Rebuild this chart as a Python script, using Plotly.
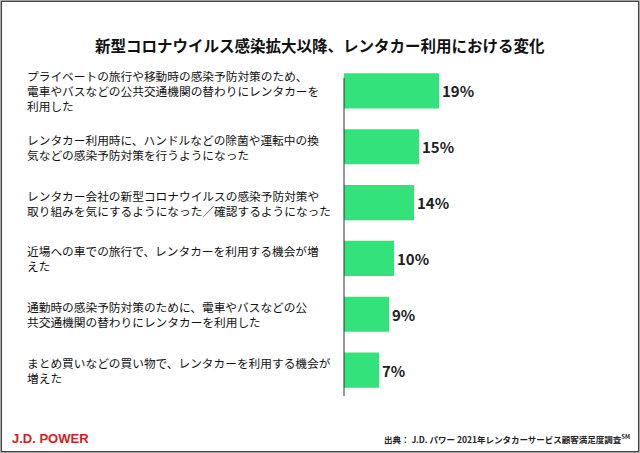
import plotly.graph_objects as go

labels = [
    "プライベートの旅行や移動時の感染予防対策のため、<br>電車やバスなどの公共交通機関の替わりにレンタカーを<br>利用した",
    "レンタカー利用時に、ハンドルなどの除菌や運転中の換<br>気などの感染予防対策を行うようになった",
    "レンタカー会社の新型コロナウイルスの感染予防対策や<br>取り組みを気にするようになった／確認するようになった",
    "近場への車での旅行で、レンタカーを利用する機会が増<br>えた",
    "通勤時の感染予防対策のために、電車やバスなどの公<br>共交通機関の替わりにレンタカーを利用した",
    "まとめ買いなどの買い物で、レンタカーを利用する機会が<br>増えた",
]
values = [19, 15, 14, 10, 9, 7]
cats = list(range(len(values)))

W, H = 640, 453
fig = go.Figure(go.Bar(
    x=values, y=cats, orientation="h",
    marker=dict(color="#33e27a", line=dict(width=0)),
    text=[f"<b>{v}%</b>" for v in values], textposition="outside",
    textfont=dict(size=15, color="#222", family="Noto Sans CJK JP"),
    cliponaxis=False,
))

fig.update_layout(
    width=W, height=H, margin=dict(l=0, r=0, t=0, b=0),
    paper_bgcolor="white", plot_bgcolor="white",
    bargap=0.37, showlegend=False,
    font=dict(family="Noto Sans CJK JP", color="#111"),
    xaxis=dict(domain=[344 / W, 1], range=[0, 59.2], visible=False),
    yaxis=dict(domain=[1 - 398 / H, 1 - 63 / H], range=[5.5, -0.5],
               showticklabels=False, showgrid=False, zeroline=False),
)
# vertical axis line
fig.add_shape(type="line", xref="paper", yref="paper",
              x0=344 / W, x1=344 / W, y0=1 - 396 / H, y1=1 - 78 / H,
              line=dict(color="#333", width=1))
for i, lab in enumerate(labels):
    fig.add_annotation(x=25 / W, xref="paper", y=i, yref="y", text=lab,
                       showarrow=False, xanchor="left", align="left",
                       font=dict(size=11.7, color="#111"))
fig.add_annotation(x=0.5, xref="paper", y=1 - 45 / H, yref="paper", yanchor="middle",
                   text="<b>新型コロナウイルス感染拡大以降、レンタカー利用における変化</b>",
                   showarrow=False, font=dict(size=15.5, color="#111"))
fig.add_annotation(x=10 / W, xref="paper", y=1 - 438 / H, yref="paper", yanchor="middle",
                   text="<b>J.D. POWER</b>", showarrow=False, xanchor="left",
                   font=dict(size=13, color="#d62020", family="Liberation Sans"))
fig.add_annotation(x=632 / W, xref="paper", y=1 - 438 / H, yref="paper", yanchor="middle",
                   text="<b>出典： J.D. パワー 2021年レンタカーサービス顧客満足度調査<sup>SM</sup></b>",
                   showarrow=False, xanchor="right",
                   font=dict(size=8.5, color="#222"))
fig.add_shape(type="rect", xref="paper", yref="paper", x0=0.002, x1=0.998,
              y0=0.003, y1=0.997, line=dict(color="#444", width=1.5))

fig.write_html("out.html", config={"displayModeBar": False},
               post_script="document.body.style.margin='0';")
